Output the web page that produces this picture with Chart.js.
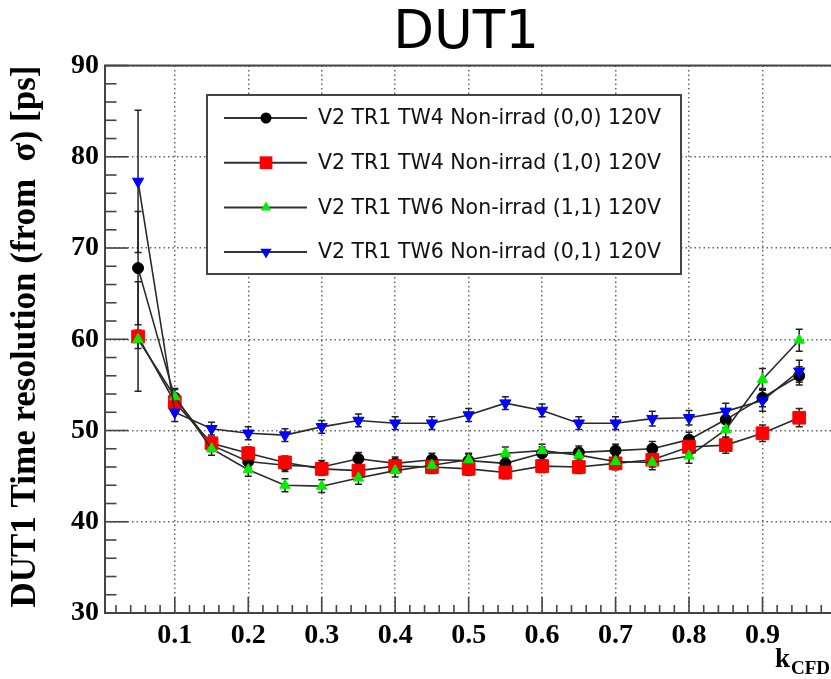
<!DOCTYPE html>
<html>
<head>
<meta charset="utf-8">
<title>DUT1</title>
<script src="https://cdn.jsdelivr.net/npm/chart.js"></script>
<style>
  html, body { margin: 0; padding: 0; background: #fff; overflow: hidden; }
  canvas { display: block; }
</style>
</head>
<body>
<canvas id="grafico" width="932" height="679"></canvas>
<script>
// k_CFD values
const kcfd = [0.05, 0.10, 0.15, 0.20, 0.25, 0.30, 0.35, 0.40, 0.45, 0.50,
              0.55, 0.60, 0.65, 0.70, 0.75, 0.80, 0.85, 0.90, 0.95];

const seriesLabels = [
  'V2 TR1 TW4 Non-irrad (0,0) 120V',
  'V2 TR1 TW4 Non-irrad (1,0) 120V',
  'V2 TR1 TW6 Non-irrad (1,1) 120V',
  'V2 TR1 TW6 Non-irrad (0,1) 120V'
];

// time resolution [ps] and errors
const tw4_00 = [67.8, 53.6, 48.4, 46.6, 46.2, 46.0, 46.9, 46.4, 46.8, 46.7,
                46.4, 47.5, 47.6, 47.8, 48.0, 49.0, 51.2, 53.6, 56.0];
const tw4_00_err = [6.2, 0.9, 0.7, 0.7, 0.7, 0.7, 0.7, 0.7, 0.7, 0.7,
                    0.7, 0.7, 0.7, 0.7, 0.8, 0.8, 0.9, 1.0, 1.0];

const tw4_10 = [60.3, 53.1, 48.6, 47.5, 46.5, 45.8, 45.6, 46.1, 46.0, 45.8,
                45.4, 46.1, 46.0, 46.4, 46.8, 48.2, 48.4, 49.7, 51.4];
const tw4_10_err = [6.0, 0.9, 0.7, 0.7, 0.7, 0.7, 0.7, 0.7, 0.7, 0.7,
                    0.7, 0.7, 0.7, 0.7, 0.8, 0.8, 0.9, 0.9, 1.0];

const tw6_11 = [60.0, 53.7, 48.0, 45.7, 44.0, 43.9, 44.8, 45.6, 46.2, 46.8,
                47.5, 47.8, 47.3, 46.6, 46.5, 47.2, 50.1, 55.6, 59.9];
const tw6_11_err = [1.0, 0.9, 0.7, 0.7, 0.7, 0.7, 0.7, 0.7, 0.7, 0.7,
                    0.7, 0.7, 0.7, 0.7, 0.8, 0.8, 0.9, 1.2, 1.2];

const tw6_01 = [77.3, 52.0, 50.2, 49.7, 49.5, 50.4, 51.1, 50.8, 50.8, 51.7,
                53.0, 52.2, 50.8, 50.8, 51.3, 51.4, 52.1, 53.3, 56.5];
const tw6_01_err = [7.8, 1.0, 0.7, 0.7, 0.7, 0.7, 0.7, 0.7, 0.7, 0.7,
                    0.7, 0.7, 0.7, 0.7, 0.8, 0.8, 0.9, 1.2, 1.2];

const yTicks = [30, 40, 50, 60, 70, 80, 90];

const toPoints = vals => vals.map((v, i) => ({x: kcfd[i], y: v}));

function drawMarker(ctx, style, x, y, r, rot, color) {
  ctx.save();
  ctx.fillStyle = color;
  ctx.beginPath();
  if (style === 'circle') {
    ctx.arc(x, y, r, 0, Math.PI * 2);
  } else if (style === 'rect') {
    const s = r * Math.SQRT1_2;
    ctx.rect(x - s, y - s, 2 * s, 2 * s);
  } else {
    let a = rot * Math.PI / 180;
    ctx.moveTo(x + Math.sin(a) * r, y - Math.cos(a) * r);
    a += Math.PI * 2 / 3;
    ctx.lineTo(x + Math.sin(a) * r, y - Math.cos(a) * r);
    a += Math.PI * 2 / 3;
    ctx.lineTo(x + Math.sin(a) * r, y - Math.cos(a) * r);
    ctx.closePath();
  }
  ctx.fill();
  ctx.restore();
}

// frame, inner ticks and error bars (ROOT look)
const frameAndErrors = {
  id: 'frameAndErrors',
  beforeDatasetsDraw(chart) {
    const {ctx, chartArea: a, scales: {x, y}} = chart;
    ctx.save();
    ctx.strokeStyle = '#444';
    ctx.lineWidth = 1.6;
    // ticks on y
    for (let i = 15; i <= 45; i++) {
      const py = y.getPixelForValue(i * 2);
      const len = i % 5 === 0 ? 23 : 11.5;
      ctx.beginPath(); ctx.moveTo(a.left, py); ctx.lineTo(a.left + len, py); ctx.stroke();
    }
    // ticks on x
    for (let i = 1; i * 0.02 < x.max; i++) {
      const px = x.getPixelForValue(i * 0.02);
      const len = i % 5 === 0 ? 16 : 8;
      ctx.beginPath(); ctx.moveTo(px, a.bottom); ctx.lineTo(px, a.bottom - len); ctx.stroke();
    }
    ctx.lineWidth = 2;
    ctx.strokeRect(a.left, a.top, a.right - a.left, a.bottom - a.top);

    // error bars
    ctx.strokeStyle = '#222';
    ctx.lineWidth = 1.5;
    chart.data.datasets.forEach((ds, di) => {
      const meta = chart.getDatasetMeta(di);
      meta.data.forEach((pt, i) => {
        const v = ds.data[i].y, e = ds.errors[i];
        const y1 = y.getPixelForValue(v + e), y2 = y.getPixelForValue(v - e);
        ctx.beginPath();
        ctx.moveTo(pt.x, y1); ctx.lineTo(pt.x, y2);
        ctx.moveTo(pt.x - 3.5, y1); ctx.lineTo(pt.x + 3.5, y1);
        ctx.moveTo(pt.x - 3.5, y2); ctx.lineTo(pt.x + 3.5, y2);
        ctx.stroke();
      });
    });
    ctx.restore();
  },
  afterDatasetsDraw(chart) {
    const ctx = chart.ctx;
    // legend box
    const bx = 207, by = 95, bw = 474, bh = 179;
    ctx.save();
    ctx.fillStyle = '#fff';
    ctx.fillRect(bx, by, bw, bh);
    ctx.strokeStyle = '#444';
    ctx.lineWidth = 2;
    ctx.strokeRect(bx, by, bw, bh);
    chart.data.datasets.forEach((ds, i) => {
      const ry = 118 + i * 44.7;
      ctx.strokeStyle = '#333';
      ctx.lineWidth = 2;
      ctx.beginPath(); ctx.moveTo(224, ry); ctx.lineTo(307, ry); ctx.stroke();
      drawMarker(ctx, ds.pointStyle, 266, ry, ds.pointRadius, ds.pointRotation || 0, ds.pointBackgroundColor);
      ctx.fillStyle = '#111';
      ctx.font = '20.5px "DejaVu Sans"';
      ctx.textAlign = 'left';
      ctx.textBaseline = 'middle';
      ctx.fillText(ds.label, 318, ry + 1);
    });
    // x axis title k_CFD
    ctx.fillStyle = '#000';
    ctx.textBaseline = 'alphabetic';
    ctx.font = 'bold 27px "Liberation Serif"';
    ctx.fillText('k', 775, 667);
    ctx.font = 'bold 19px "Liberation Serif"';
    ctx.fillText('CFD', 791, 674);
    ctx.restore();
  }
};

new Chart(document.getElementById('grafico'), {
  type: 'line',
  data: {
    datasets: [
      { label: seriesLabels[0], data: toPoints(tw4_00), errors: tw4_00_err,
        pointStyle: 'circle', pointRadius: 5.5, pointBackgroundColor: '#000000', pointBorderColor: '#000000', order: 3 },
      { label: seriesLabels[1], data: toPoints(tw4_10), errors: tw4_10_err,
        pointStyle: 'rect', pointRadius: 9, pointBackgroundColor: '#ff0000', pointBorderColor: '#ff0000', order: 2 },
      { label: seriesLabels[2], data: toPoints(tw6_11), errors: tw6_11_err,
        pointStyle: 'triangle', pointRadius: 6, pointBackgroundColor: '#00ee00', pointBorderColor: '#00ee00', order: 1 },
      { label: seriesLabels[3], data: toPoints(tw6_01), errors: tw6_01_err,
        pointStyle: 'triangle', pointRotation: 180, pointRadius: 6.5, pointBackgroundColor: '#0000ff', pointBorderColor: '#0000ff', order: 0 }
    ].map(ds => Object.assign({
      borderColor: '#2a2a2a', borderWidth: 1.6, pointBorderWidth: 1, tension: 0, fill: false
    }, ds))
  },
  options: {
    responsive: false,
    animation: false,
    devicePixelRatio: 1,
    events: [],
    layout: { padding: 0 },
    plugins: {
      legend: { display: false },
      tooltip: { enabled: false },
      title: {
        display: true,
        text: 'DUT1',
        color: '#000',
        font: { family: 'DejaVu Sans', size: 53, weight: 'normal', lineHeight: 1.18 },
        padding: { top: 3, bottom: 0 }
      }
    },
    scales: {
      x: {
        type: 'linear',
        min: 0.005,
        max: 1.045,
        grid: { color: '#666', lineWidth: 1.5, drawTicks: false },
        border: { display: false, dash: [1.5, 3] },
        ticks: {
          stepSize: 0.1,
          includeBounds: false,
          padding: 6,
          color: '#000',
          font: { family: 'Liberation Serif', size: 28, weight: 'bold' },
          callback: v => (v > 0.05 && v < 0.95) ? v.toFixed(1) : ''
        },
        afterFit: s => { s.height = 66; }
      },
      y: {
        min: yTicks[0],
        max: yTicks[yTicks.length - 1],
        grid: { color: '#666', lineWidth: 1.5, drawTicks: false },
        border: { display: false, dash: [1.5, 3] },
        ticks: {
          stepSize: 10,
          padding: 6,
          color: '#000',
          font: { family: 'Liberation Serif', size: 28, weight: 'bold' }
        },
        title: {
          display: true,
          text: 'DUT1 Time resolution (from  σ) [ps]',
          align: 'end',
          color: '#000',
          font: { family: 'Liberation Serif', size: 35, weight: 'bold', lineHeight: 1.2 },
          padding: { top: 5, bottom: 0 }
        },
        afterFit: s => { s.width = 105; }
      },
      spacer: {
        type: 'linear',
        position: 'right',
        display: true,
        grid: { display: false, drawOnChartArea: false },
        border: { display: false },
        ticks: { display: false },
        afterFit: s => { s.width = 63; }
      }
    }
  },
  plugins: [frameAndErrors]
});
</script>
</body>
</html>
